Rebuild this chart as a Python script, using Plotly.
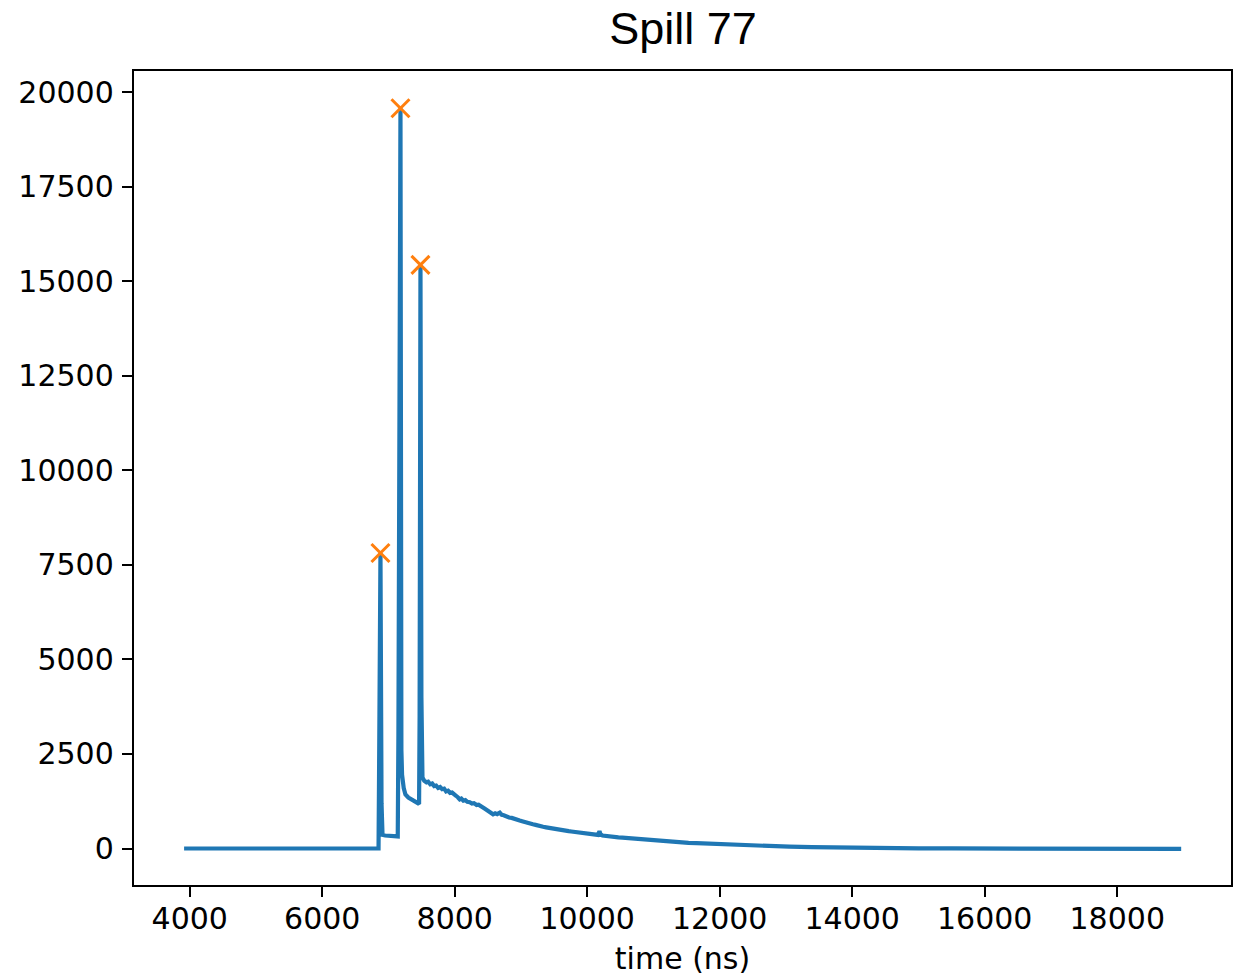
import plotly.graph_objects as go

# Signal trace (time in ns, amplitude)
time_ns = [3915, 4500, 5000, 5500, 6000, 6500, 6850, 6860, 6879, 6895, 6910, 6950, 7000, 7050,
           7100, 7140, 7150, 7181, 7195, 7205, 7230, 7256, 7300, 7350, 7400, 7462, 7470, 7483,
           7497, 7513,
           7540, 7574, 7600, 7630, 7660, 7690, 7720, 7750, 7780, 7810, 7840, 7870, 7900, 7930,
           7960, 7990, 8020, 8050, 8076, 8100, 8130, 8160, 8190, 8227, 8260, 8290, 8330, 8360,
           8390, 8420, 8450, 8480, 8510, 8540, 8579, 8610, 8640, 8680, 8710, 8740, 8780, 8820,
           8860, 8900, 8940, 8980, 9030, 9083, 9130, 9180, 9220, 9260, 9300, 9334, 9380, 9420,
           9460, 9500, 9540, 9586, 9630, 9680, 9720, 9760, 9800, 9838, 9880, 9920, 9960, 10000,
           10050, 10089, 10130, 10160, 10185, 10200, 10230, 10280, 10341, 10400, 10470, 10530,
           10593, 10650, 10720, 10780, 10844, 10900, 10970, 11030, 11096, 11200, 11300, 11400,
           11529, 11650, 11800, 11950, 12150, 12300, 12450, 12600, 12767, 13050, 13390, 13700,
           14015, 14500, 15000, 15500, 16000, 16500, 17000, 17500, 18000, 18500, 18965]
amplitude = [0, 0, 0, 0, 0, 0, 0, 2500, 7815, 1200, 360, 345, 335, 330,
             325, 320, 3000, 19577, 2600, 1950, 1600, 1430, 1350, 1300, 1250, 1180, 3500, 15435,
             4000, 1875,
             1790, 1750, 1765, 1700, 1720, 1650, 1665, 1600, 1625, 1570, 1585, 1510, 1530, 1470,
             1480, 1420, 1395, 1350, 1300, 1320, 1265, 1280, 1235, 1225, 1190, 1200, 1150, 1160,
             1110, 1090, 1055, 1020, 1000, 950, 905, 930, 910, 950, 890, 880, 845, 820,
             810, 780, 770, 740, 715, 680, 665, 640, 625, 600, 590, 575, 560, 545,
             535, 520, 515, 500, 480, 470, 460, 450, 440, 430, 425, 410, 400, 390,
             380, 370, 365, 360, 455, 380, 345, 330, 315, 305, 295, 290,
             280, 270, 262, 255, 245, 240, 232, 225, 215, 200, 190, 170,
             150, 140, 128, 118, 106, 95, 85, 72, 62, 48, 35, 26,
             18, 12, 6, 3, 0, 0, -3, -5, -8, -10, -12]

# Detected peaks
peak_time = [6879, 7181, 7483]
peak_amp = [7815, 19577, 15435]

x_ticks = [4000, 6000, 8000, 10000, 12000, 14000, 16000, 18000]
y_ticks = [0, 2500, 5000, 7500, 10000, 12500, 15000, 17500, 20000]

fig = go.Figure()
fig.add_trace(go.Scatter(x=time_ns, y=amplitude, mode="lines",
                         line=dict(color="#1f77b4", width=4.2), showlegend=False))
fig.add_trace(go.Scatter(x=peak_time, y=peak_amp, mode="markers",
                         marker=dict(symbol="x-thin", size=18, color="#ff7f0e",
                                     line=dict(color="#ff7f0e", width=3)),
                         showlegend=False))

axis_common = dict(showline=True, linecolor="black", linewidth=2.4, mirror=True,
                   ticks="outside", ticklen=10, tickwidth=2.4, tickcolor="black",
                   showgrid=False, zeroline=False, automargin=False,
                   tickfont=dict(family="DejaVu Sans", size=30, color="black"))

fig.update_layout(
    width=1243, height=976,
    margin=dict(l=134, r=12, t=71, b=91),
    paper_bgcolor="white", plot_bgcolor="white",
    title=dict(text="Spill 77", x=0.5495, xanchor="center", y=0.971, yanchor="middle",
               font=dict(family="Liberation Sans", size=45, color="black")),
    xaxis=dict(range=[3159, 19717], tickvals=x_ticks, ticktext=[str(v) for v in x_ticks],
               title=dict(text="time (ns)", standoff=33,
                          font=dict(family="DejaVu Sans", size=30, color="black")),
               ticklabelstandoff=-4, **axis_common),
    yaxis=dict(range=[-965, 20563], tickvals=y_ticks, ticktext=[str(v) for v in y_ticks],
               ticklabelstandoff=2, **axis_common),
)

fig.write_html("out.html")
